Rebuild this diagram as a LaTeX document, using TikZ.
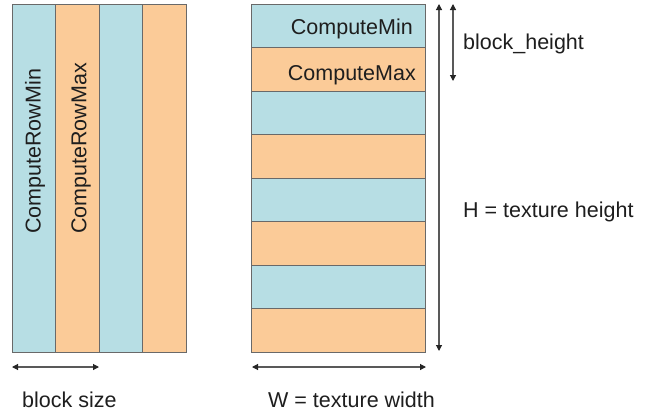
\documentclass[tikz,border=0pt]{standalone}
\usepackage{fontspec}
\setmainfont{Liberation Sans}
\usetikzlibrary{arrows.meta}
\definecolor{lblue}{RGB}{183,222,228}
\definecolor{lorange}{RGB}{251,203,152}
\definecolor{edgegray}{RGB}{105,105,105}
\definecolor{txt}{RGB}{30,30,30}
\tikzset{
  cell/.style={draw=edgegray, line width=1pt},
  dim/.style={draw=gray!70!black, line width=1.1pt, {Triangle[length=6pt,width=6pt,color=black!85]}-{Triangle[length=6pt,width=6pt,color=black!85]}},
  lbl/.style={font=\fontsize{21.5}{25}\selectfont, text=txt, inner sep=0pt}
}
\begin{document}
\begin{tikzpicture}[x=1pt,y=-1pt]
\useasboundingbox (0,0) rectangle (650,415);
% left: columns
\foreach \i/\c in {0/lblue,1/lorange,2/lblue,3/lorange}{
  \filldraw[cell, fill=\c] ({12+43.5*\i},4) rectangle ({12+43.5*(\i+1)},352);
}
\node[lbl, rotate=90, anchor=west] (rmin) at (35,234) {ComputeRowMin};
\node[lbl, rotate=90, anchor=west] (rmax) at (81,234) {ComputeRowMax};
% right: rows
\foreach \j in {0,...,7}{
  \pgfmathsetmacro{\y}{4+43.5*\j}
  \ifodd\j \def\cc{lorange}\else\def\cc{lblue}\fi
  \filldraw[cell, fill=\cc] (251,\y) rectangle (425,{\y+43.5});
}
\node[lbl, anchor=east] (cmin) at (413,29) {ComputeMin};
\node[lbl, anchor=east] (cmax) at (416,75) {ComputeMax};
% dimension arrows
\coordinate (hT) at (439,4);
\coordinate (hB) at (439,351);
\coordinate (bT) at (453,4);
\coordinate (bB) at (453,81);
\coordinate (wL) at (252,367);
\coordinate (wR) at (426,367);
\coordinate (sL) at (12,367);
\coordinate (sR) at (99,367);
\draw[dim] (hT) -- (hB);
\draw[dim] (bT) -- (bB);
\draw[dim] (wL) -- (wR);
\draw[dim] (sL) -- (sR);
\node[lbl, anchor=west] (bh) at (463,44) {block\_height};
\node[lbl, anchor=west] (th) at (463,212) {H = texture height};
\node[lbl, anchor=west] (bs) at (22,400) {block size};
\node[lbl, anchor=west] (tw) at (268,400) {W = texture width};
\end{tikzpicture}
\end{document}
